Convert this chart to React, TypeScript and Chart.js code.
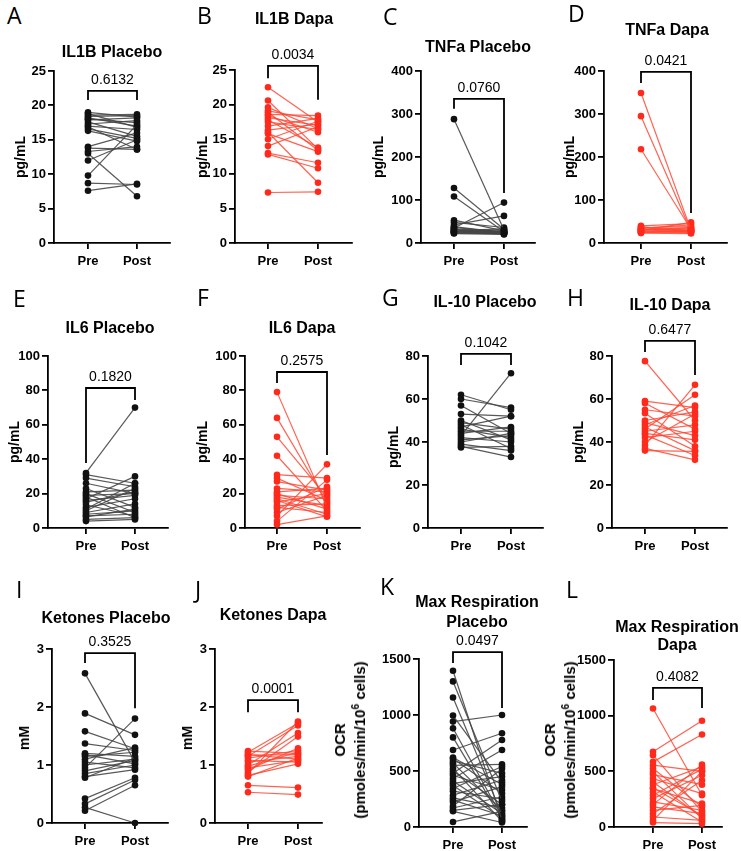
import React, { useEffect, useRef } from 'react';
import { Chart, registerables } from 'chart.js';
Chart.register(...registerables);

const FONT = '"Liberation Sans", Arial, Helvetica, sans-serif';
const LETTER_FONT = '"Open Sans", "DejaVu Sans", sans-serif';

// ---------- data ----------
const categories = ['Pre', 'Post'];

const il1bPlaceboPre = [7.6, 8.7, 9.8, 12.0, 13.0, 13.3, 13.8, 14.0, 16.3, 16.6, 17.0, 17.3, 17.6, 17.9, 18.2, 18.4, 18.6, 18.8, 19.0, 16.9, 18.0];
const il1bPlaceboPost = [8.6, 8.5, 17.2, 15.0, 6.8, 14.0, 13.6, 16.0, 14.8, 15.2, 16.5, 17.8, 15.5, 18.2, 17.0, 18.5, 18.7, 16.8, 18.3, 13.6, 17.5];

const il1bDapaPre = [22.5, 20.6, 19.6, 19.1, 18.6, 18.4, 18.1, 17.8, 16.9, 16.3, 15.8, 15.0, 14.0, 13.0, 12.8, 16.0, 7.3, 17.5, 18.9];
const il1bDapaPost = [17.5, 13.6, 16.5, 17.8, 18.4, 16.0, 17.0, 13.8, 18.0, 17.2, 13.2, 17.6, 16.8, 11.6, 10.8, 8.7, 7.4, 16.4, 13.4];

const tnfaPlaceboPre = [288, 128, 108, 53, 48, 42, 35, 38, 33, 30, 28, 26, 25, 24, 22, 31, 29, 27, 36, 23];
const tnfaPlaceboPost = [30, 32, 26, 28, 36, 63, 94, 24, 27, 22, 25, 21, 29, 23, 20, 26, 33, 24, 25, 22];

const tnfaDapaPre = [349, 295, 218, 40, 36, 34, 32, 30, 28, 27, 26, 25, 24, 38, 29, 23, 31, 33];
const tnfaDapaPost = [30, 28, 32, 45, 38, 42, 30, 35, 26, 33, 24, 29, 27, 25, 48, 22, 36, 28];

const il6PlaceboPre = [32, 31, 29, 26, 23, 21, 20, 19, 17, 15, 13.5, 12, 10, 9, 8, 6.5, 5, 4, 7, 16, 11, 18];
const il6PlaceboPost = [70, 26, 24, 20, 12, 22, 9, 20, 30, 21, 7, 17, 23, 14, 10, 11, 6, 5, 8, 19, 26, 6];

const il6DapaPre = [79, 64, 53, 42, 31, 27, 23, 21, 19, 17, 15, 13, 11, 9, 7, 4, 2, 20, 16, 12, 29, 18];
const il6DapaPost = [12, 15, 18, 10, 29, 22, 21, 23, 17, 8, 20, 14, 24, 19, 37, 28, 7, 11, 6.5, 9, 16, 13];

const il10PlaceboPre = [62, 60, 57, 53, 49, 48, 46, 44, 43, 42, 40, 39, 38, 37.5, 45, 41, 47, 50];
const il10PlaceboPost = [55, 56, 44, 52, 46, 37, 42, 47, 72, 40, 44, 36, 33, 38, 45, 43, 52, 41];

const il10DapaPre = [77.6, 59, 58, 55, 53.4, 50, 49, 47, 46, 45, 43.3, 42, 40, 38.5, 37, 36, 44, 48];
const il10DapaPost = [50, 56, 46, 52, 38, 54, 43, 36, 62, 48, 33.7, 45, 53, 66.6, 31.7, 35.6, 41, 57];

const ketonesPlaceboPre = [2.58, 1.89, 1.58, 1.37, 1.2, 1.15, 1.1, 1.05, 1.0, 0.95, 0.9, 0.85, 0.8, 0.78, 0.42, 0.33, 0.27, 0.21, 1.18];
const ketonesPlaceboPost = [1.05, 1.52, 1.28, 1.25, 1.15, 1.22, 1.3, 0.95, 1.1, 1.8, 1.08, 1.0, 0.92, 1.12, 0.78, 0.74, 0.0, 0.65, 1.02];

const ketonesDapaPre = [1.24, 1.22, 1.18, 1.15, 1.12, 1.08, 1.05, 1.0, 0.95, 0.92, 0.88, 0.82, 0.8, 0.85, 0.65, 0.53, 1.17, 0.98];
const ketonesDapaPost = [1.2, 1.72, 1.1, 1.68, 1.25, 1.05, 1.15, 1.55, 1.08, 1.29, 1.49, 1.02, 1.12, 1.75, 0.61, 0.49, 1.18, 1.22];

const maxRespPlaceboPre = [1395, 1300, 1156, 995, 941, 881, 687, 612, 590, 570, 550, 523, 500, 480, 460, 433, 410, 390, 370, 344, 320, 284, 260, 240, 224, 188, 170, 149, 140, 45, 620, 800];
const maxRespPlaceboPost = [60, 230, 110, 400, 1000, 90, 837, 300, 480, 150, 560, 50, 200, 777, 330, 687, 120, 450, 80, 540, 250, 420, 170, 100, 360, 520, 270, 200, 40, 140, 380, 70];

const maxRespDapaPre = [1065, 675, 645, 585, 555, 525, 495, 435, 405, 380, 345, 315, 285, 255, 225, 201, 180, 150, 120, 90, 60, 40, 350, 470];
const maxRespDapaPost = [285, 954, 135, 831, 500, 180, 75, 300, 90, 540, 210, 45, 520, 465, 150, 560, 120, 195, 420, 60, 500, 30, 105, 380];

const pValues = ['0.6132', '0.0034', '0.0760', '0.0421', '0.1820', '0.2575', '0.1042', '0.6477', '0.3525', '0.0001', '0.0497', '0.4082'];

const yTicksIL1B = [0, 5, 10, 15, 20, 25];
const yTicksTNFa = [0, 100, 200, 300, 400];
const yTicksIL6 = [0, 20, 40, 60, 80, 100];
const yTicksIL10 = [0, 20, 40, 60, 80];
const yTicksKetones = [0, 1, 2, 3];
const yTicksOCR = [0, 500, 1000, 1500];

// ---------- layout ----------
type Panel = {
  letter: string;
  title: string[];
  titleLH: number;
  yTitle: 'pg' | 'mM' | 'ocr';
  pre: number[];
  post: number[];
  p: string;
  bracket: [number, number, number];
  yTicks: number[];
  dapa: boolean;
  axisX: number; preX: number; postX: number; xEnd: number; yTop: number; yBot: number;
  letterPos: [number, number];
  titlePos: [number, number];
  yTitlePos: [number, number];
};

const panels: Panel[] = [
  { letter: 'A', title: ['IL1B Placebo'], titleLH: 18, yTitle: 'pg', pre: il1bPlaceboPre, post: il1bPlaceboPost, p: pValues[0], bracket: [22.1, 20.8, 20.8], yTicks: yTicksIL1B, dapa: false,
    axisX: 54, preX: 88, postX: 137, xEnd: 170, yTop: 71, yBot: 243, letterPos: [7, 15], titlePos: [112, 52], yTitlePos: [20, 157] },
  { letter: 'B', title: ['IL1B Dapa'], titleLH: 18, yTitle: 'pg', pre: il1bDapaPre, post: il1bDapaPost, p: pValues[1], bracket: [25.6, 23.8, 20.7], yTicks: yTicksIL1B, dapa: true,
    axisX: 235, preX: 268, postX: 318, xEnd: 352, yTop: 70, yBot: 243, letterPos: [197, 15], titlePos: [294, 19], yTitlePos: [202, 157] },
  { letter: 'C', title: ['TNFa Placebo'], titleLH: 18, yTitle: 'pg', pre: tnfaPlaceboPre, post: tnfaPlaceboPost, p: pValues[2], bracket: [335, 312, 116], yTicks: yTicksTNFa, dapa: false,
    axisX: 421, preX: 454, postX: 504, xEnd: 535, yTop: 71, yBot: 243, letterPos: [383, 16], titlePos: [478, 47], yTitlePos: [378, 157] },
  { letter: 'D', title: ['TNFa Dapa'], titleLH: 18, yTitle: 'pg', pre: tnfaDapaPre, post: tnfaDapaPost, p: pValues[3], bracket: [398, 372, 70], yTicks: yTicksTNFa, dapa: true,
    axisX: 604, preX: 641, postX: 691, xEnd: 727, yTop: 71, yBot: 243, letterPos: [568, 13], titlePos: [667, 30], yTitlePos: [569, 157] },
  { letter: 'E', title: ['IL6 Placebo'], titleLH: 18, yTitle: 'pg', pre: il6PlaceboPre, post: il6PlaceboPost, p: pValues[4], bracket: [81.4, 37.8, 74.4], yTicks: yTicksIL6, dapa: false,
    axisX: 48, preX: 86, postX: 135, xEnd: 168, yTop: 356, yBot: 528, letterPos: [13, 298], titlePos: [110, 328], yTitlePos: [14, 442] },
  { letter: 'F', title: ['IL6 Dapa'], titleLH: 18, yTitle: 'pg', pre: il6DapaPre, post: il6DapaPost, p: pValues[5], bracket: [90.7, 84.3, 42.4], yTicks: yTicksIL6, dapa: true,
    axisX: 245, preX: 277, postX: 327, xEnd: 360, yTop: 356, yBot: 528, letterPos: [197, 297], titlePos: [302, 328], yTitlePos: [202, 442] },
  { letter: 'G', title: ['IL-10 Placebo'], titleLH: 18, yTitle: 'pg', pre: il10PlaceboPre, post: il10PlaceboPost, p: pValues[6], bracket: [81, 75.8, 75.8], yTicks: yTicksIL10, dapa: false,
    axisX: 428, preX: 461, postX: 511, xEnd: 543, yTop: 356, yBot: 528, letterPos: [382, 297], titlePos: [485, 302], yTitlePos: [393, 447] },
  { letter: 'H', title: ['IL-10 Dapa'], titleLH: 18, yTitle: 'pg', pre: il10DapaPre, post: il10DapaPost, p: pValues[7], bracket: [87, 81.9, 71.2], yTicks: yTicksIL10, dapa: true,
    axisX: 612, preX: 645, postX: 695, xEnd: 727, yTop: 356, yBot: 528, letterPos: [567, 297], titlePos: [670, 305], yTitlePos: [578, 442] },
  { letter: 'I', title: ['Ketones Placebo'], titleLH: 18, yTitle: 'mM', pre: ketonesPlaceboPre, post: ketonesPlaceboPost, p: pValues[8], bracket: [2.93, 2.76, 1.98], yTicks: yTicksKetones, dapa: false,
    axisX: 52, preX: 85, postX: 135, xEnd: 168, yTop: 649, yBot: 823, letterPos: [16, 589], titlePos: [106, 618], yTitlePos: [24, 738] },
  { letter: 'J', title: ['Ketones Dapa'], titleLH: 18, yTitle: 'mM', pre: ketonesDapaPre, post: ketonesDapaPost, p: pValues[9], bracket: [2.12, 1.91, 1.91], yTicks: yTicksKetones, dapa: true,
    axisX: 215, preX: 248, postX: 298, xEnd: 322, yTop: 649, yBot: 823, letterPos: [195, 589], titlePos: [273, 615], yTitlePos: [187, 738] },
  { letter: 'K', title: ['Max Respiration', 'Placebo'], titleLH: 20, yTitle: 'ocr', pre: maxRespPlaceboPre, post: maxRespPlaceboPost, p: pValues[10], bracket: [1562, 1464, 1062], yTicks: yTicksOCR, dapa: false,
    axisX: 419, preX: 453, postX: 502, xEnd: 527, yTop: 659, yBot: 827, letterPos: [380, 586], titlePos: [477, 612], yTitlePos: [350, 740] },
  { letter: 'L', title: ['Max Respiration', 'Dapa'], titleLH: 18, yTitle: 'ocr', pre: maxRespDapaPre, post: maxRespDapaPost, p: pValues[11], bracket: [1249, 1141, 1069], yTicks: yTicksOCR, dapa: true,
    axisX: 614, preX: 653, postX: 702, xEnd: 722, yTop: 660, yBot: 827, letterPos: [566, 589], titlePos: [677, 636], yTitlePos: [560, 740] },
];

const PAD_L = 45, PAD_T = 40, PAD_R = 10, PAD_B = 34;

function PanelChart({ p }: { p: Panel }) {
  const ref = useRef<HTMLCanvasElement>(null);
  const w = PAD_L + (p.xEnd - p.axisX) + PAD_R;
  const h = PAD_T + (p.yBot - p.yTop) + PAD_B;
  useEffect(() => {
    if (!ref.current) return;
    const pointColor = p.dapa ? '#ff2a1c' : '#111111';
    const lineColor = p.dapa ? 'rgba(255,70,50,0.85)' : 'rgba(70,70,70,0.9)';
    const datasets = p.pre.map((v, i) => ({
      data: [{ x: 0, y: v }, { x: 1, y: p.post[i] }],
      borderColor: lineColor,
      borderWidth: 1.2,
      pointRadius: 3.3,
      pointBackgroundColor: pointColor,
      pointBorderColor: pointColor,
      pointBorderWidth: 0,
      clip: false as any,
      fill: false,
      tension: 0,
    }));
    const span = p.postX - p.preX;
    const xMin = -(p.preX - p.axisX) / span;
    const xMax = 1 + (p.xEnd - p.postX) / span;
    const yMax = p.yTicks[p.yTicks.length - 1];
    const bracket = {
      id: 'pbracket',
      afterDatasetsDraw(chart: any) {
        const { ctx, scales } = chart;
        const x0 = scales.x.getPixelForValue(0);
        const x1 = scales.x.getPixelForValue(1);
        const yt = scales.y.getPixelForValue(p.bracket[0]);
        const y0 = scales.y.getPixelForValue(p.bracket[1]);
        const y1 = scales.y.getPixelForValue(p.bracket[2]);
        ctx.save();
        ctx.strokeStyle = '#000';
        ctx.lineWidth = 1.8;
        ctx.beginPath();
        ctx.moveTo(x0, y0);
        ctx.lineTo(x0, yt);
        ctx.lineTo(x1, yt);
        ctx.lineTo(x1, y1);
        ctx.stroke();
        ctx.font = `14px ${FONT}`;
        ctx.fillStyle = '#000';
        ctx.textAlign = 'center';
        ctx.textBaseline = 'alphabetic';
        ctx.fillText(p.p, (x0 + x1) / 2, yt - 7);
        ctx.restore();
      },
    };
    const tickFont = { family: FONT, size: 13, weight: 'bold' as const };
    const chart = new Chart(ref.current, {
      type: 'line',
      data: { datasets: datasets as any },
      options: {
        animation: false,
        responsive: false,
        maintainAspectRatio: false,
        devicePixelRatio: 1,
        events: [],
        layout: { padding: { left: 0, top: PAD_T, right: PAD_R, bottom: 0 } },
        plugins: { legend: { display: false }, tooltip: { enabled: false }, title: { display: false } },
        scales: {
          x: {
            type: 'linear',
            min: xMin,
            max: xMax,
            afterBuildTicks: (s: any) => { s.ticks = [{ value: 0 }, { value: 1 }]; },
            afterFit: (s: any) => { s.height = PAD_B; },
            ticks: {
              callback: (v: any) => (v === 0 ? categories[0] : v === 1 ? categories[1] : ''),
              font: tickFont, color: '#000', padding: 5, maxRotation: 0, autoSkip: false,
            },
            grid: { drawOnChartArea: false, drawTicks: true, tickLength: 6, color: '#000', lineWidth: 1.8 },
            border: { display: true, color: '#000', width: 1.8 },
          },
          y: {
            type: 'linear',
            min: 0,
            max: yMax,
            afterBuildTicks: (s: any) => { s.ticks = p.yTicks.map((v) => ({ value: v })); },
            afterFit: (s: any) => { s.width = PAD_L; },
            ticks: { font: tickFont, color: '#000', padding: 2, autoSkip: false, callback: (v: any) => String(v) },
            grid: { drawOnChartArea: false, drawTicks: true, tickLength: 6, color: '#000', lineWidth: 1.8 },
            border: { display: true, color: '#000', width: 1.8 },
          },
        },
      } as any,
      plugins: [bracket],
    });
    return () => chart.destroy();
  }, [p]);
  return (
    <canvas
      ref={ref}
      width={w}
      height={h}
      style={{ position: 'absolute', left: p.axisX - PAD_L, top: p.yTop - PAD_T, width: w, height: h }}
    />
  );
}

function YTitle({ p }: { p: Panel }) {
  const base: React.CSSProperties = {
    position: 'absolute', left: p.yTitlePos[0], top: p.yTitlePos[1],
    transform: 'translate(-50%, -50%) rotate(-90deg)', whiteSpace: 'nowrap',
    fontFamily: FONT, fontWeight: 'bold', color: '#000', textAlign: 'center',
  };
  if (p.yTitle === 'ocr') {
    return (
      <div style={{ ...base, fontSize: 15, lineHeight: '20px' }}>
        OCR<br />(pmoles/min/10<sup style={{ fontSize: 10, lineHeight: 0, verticalAlign: 'super' }}>6</sup> cells)
      </div>
    );
  }
  return <div style={{ ...base, fontSize: 14, lineHeight: '16px' }}>{p.yTitle === 'pg' ? 'pg/mL' : 'mM'}</div>;
}

export default function App() {
  return (
    <div style={{ position: 'absolute', left: 0, top: 0, width: 741, height: 851, background: '#fff', overflow: 'hidden' }}>
      {panels.map((p) => (
        <React.Fragment key={p.letter}>
          <PanelChart p={p} />
          <div style={{ position: 'absolute', left: p.letterPos[0], top: p.letterPos[1], transform: 'translateY(-50%)', fontFamily: LETTER_FONT, fontSize: 23, lineHeight: '23px', color: '#000' }}>
            {p.letter}
          </div>
          <div style={{ position: 'absolute', left: p.titlePos[0], top: p.titlePos[1], transform: 'translate(-50%, -50%)', fontFamily: FONT, fontWeight: 'bold', fontSize: 16, lineHeight: `${p.titleLH}px`, textAlign: 'center', whiteSpace: 'nowrap', color: '#000' }}>
            {p.title.map((t, i) => (<div key={i}>{t}</div>))}
          </div>
          <YTitle p={p} />
        </React.Fragment>
      ))}
    </div>
  );
}
